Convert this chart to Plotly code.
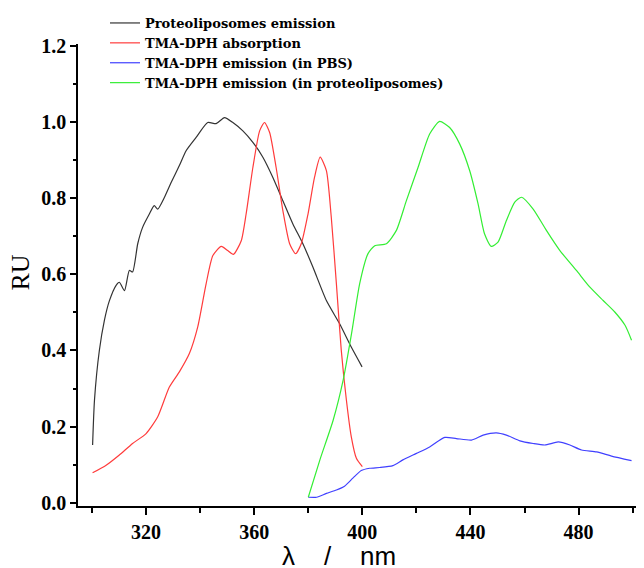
import plotly.graph_objects as go

# Proteoliposomes emission (black)
prot_x = [300.2, 300.9, 302.7, 304.6, 306.4, 308.9, 310.1, 312.0, 313.8, 315.0, 316.9, 318.7, 321.2, 323.0,
          324.3, 326.8, 329.3, 332.3, 334.8, 338.5, 342.8, 345.9, 349.0, 352.1, 355.8, 359.5, 363.2, 366.9,
          370.6, 374.3, 378.0, 381.7, 386.7, 391.6, 395.9, 399.9]
prot_y = [0.152, 0.27, 0.40, 0.48, 0.53, 0.571, 0.579, 0.557, 0.61, 0.606, 0.68, 0.723, 0.758, 0.78,
          0.771, 0.802, 0.841, 0.885, 0.924, 0.959, 0.998, 0.995, 1.011, 0.998, 0.976, 0.946, 0.907, 0.854,
          0.793, 0.732, 0.68, 0.619, 0.531, 0.47, 0.409, 0.357]

# TMA-DPH absorption (red)
abs_x = [300.2, 305.2, 310.1, 315.0, 320.0, 324.3, 328.6, 332.3, 336.0, 339.1, 342.2, 344.7, 347.8, 350.2,
         352.3, 355.2, 357.0, 359.5, 362.0, 363.8, 365.7, 368.1, 370.6, 373.1, 375.3, 377.4, 379.9, 382.3,
         384.4, 386.7, 388.5, 390.4, 392.2, 394.1, 395.9, 397.8, 400.0]
abs_y = [0.079, 0.099, 0.126, 0.156, 0.182, 0.226, 0.304, 0.344, 0.392, 0.462, 0.575, 0.649, 0.673, 0.662,
         0.652, 0.688, 0.758, 0.88, 0.976, 0.998, 0.972, 0.88, 0.767, 0.68, 0.654, 0.68, 0.758, 0.854,
         0.907, 0.872, 0.75, 0.575, 0.401, 0.27, 0.174, 0.117, 0.095]

# TMA-DPH emission in PBS (blue)
pbs_x = [380.0, 383.1, 386.7, 390.4, 393.4, 396.5, 399.6, 402.7, 406.4, 411.3, 415.0, 420.0, 424.9, 430.5,
         434.8, 440.4, 444.7, 449.6, 453.3, 458.3, 463.2, 467.5, 472.5, 476.8, 481.1, 486.7, 492.2, 499.6]
pbs_y = [0.015, 0.015, 0.025, 0.034, 0.044, 0.065, 0.085, 0.091, 0.093, 0.098, 0.113, 0.13, 0.147, 0.172,
         0.169, 0.165, 0.178, 0.184, 0.178, 0.163, 0.156, 0.152, 0.16, 0.152, 0.139, 0.134, 0.123, 0.111]

# TMA-DPH emission in proteoliposomes (green)
lip_x = [380.0, 384.3, 389.2, 392.9, 396.0, 399.0, 402.1, 404.6, 408.9, 412.6, 416.3, 420.6, 424.9, 428.6,
         432.3, 436.0, 439.7, 442.8, 445.2, 447.7, 450.2, 453.3, 456.4, 458.9, 463.2, 468.1, 473.1, 479.2,
         484.2, 489.1, 493.4, 497.2, 499.6]
lip_y = [0.015, 0.113, 0.217, 0.322, 0.444, 0.575, 0.654, 0.675, 0.68, 0.715, 0.793, 0.88, 0.968, 1.001,
         0.985, 0.942, 0.872, 0.785, 0.706, 0.673, 0.684, 0.741, 0.789, 0.802, 0.771, 0.715, 0.662, 0.61,
         0.566, 0.531, 0.501, 0.466, 0.427]

series_names = ["Proteoliposomes emission", "TMA-DPH absorption",
                "TMA-DPH emission (in PBS)", "TMA-DPH emission (in proteoliposomes)"]
series_colors = ["#333333", "#ff3b3b", "#4040ff", "#33ee33"]

x_tickvals = [320, 360, 400, 440, 480]
y_tickvals = [0.0, 0.2, 0.4, 0.6, 0.8, 1.0, 1.2]
y_ticktext = ["0.0", "0.2", "0.4", "0.6", "0.8", "1.0", "1.2"]

fig = go.Figure()
for (xs, ys), name, color in zip([(prot_x, prot_y), (abs_x, abs_y), (pbs_x, pbs_y), (lip_x, lip_y)],
                                 series_names, series_colors):
    fig.add_trace(go.Scatter(x=xs, y=ys, mode="lines", name=name,
                             line=dict(color=color, width=1.2, shape="spline", smoothing=0.6)))

tick_font = dict(family="Liberation Serif", size=20, color="black", weight="bold")

# page body has an 8px margin, so the figure is 8px smaller and offset
W, H = 636, 560
fig.update_layout(
    width=W, height=H,
    margin=dict(l=70, r=3, t=36, b=62, autoexpand=False),
    paper_bgcolor="white", plot_bgcolor="white",
    showlegend=True,
    legend=dict(xref="container", yref="container", x=97 / W, y=1 + 3 / H,
                xanchor="left", yanchor="top", bgcolor="rgba(0,0,0,0)",
                font=dict(family="DejaVu Serif", size=13, color="black", weight="bold"),
                tracegroupgap=0),
    xaxis=dict(range=[294.8, 503.1], tickvals=x_tickvals, ticks="outside", ticklen=7, tickwidth=1.5,
               tickcolor="black", showline=True, linecolor="black", linewidth=1.5, showgrid=False,
               zeroline=False, tickfont=tick_font, tickangle=0,
               minor=dict(tickvals=[300, 340, 380, 420, 460, 500], ticks="outside", ticklen=5,
                          tickwidth=1.5, tickcolor="black", showgrid=False)),
    yaxis=dict(range=[-0.008, 1.204], tickvals=y_tickvals, ticktext=y_ticktext, ticks="outside",
               ticklen=6, tickwidth=1.5, tickcolor="black", showline=True, linecolor="black",
               linewidth=1.5, showgrid=False, zeroline=False, tickfont=tick_font,
               minor=dict(tickvals=[0.1, 0.3, 0.5, 0.7, 0.9, 1.1], ticks="outside", ticklen=3,
                          tickwidth=1.5, tickcolor="black", showgrid=False)),
    annotations=[
        dict(text="RU", xref="paper", yref="paper", x=(19.5 - 78) / 563, y=(506 - 273) / 462,
             xanchor="center", yanchor="middle", textangle=-90, showarrow=False,
             font=dict(family="Liberation Serif", size=26, color="black")),
        dict(text="λ    /    nm", xref="paper", yref="paper", x=(339 - 78) / 563, y=0,
             xanchor="center", yanchor="top", yshift=-33, showarrow=False,
             font=dict(family="Liberation Sans", size=26, color="black")),
    ],
)

fig.write_html("out.html")
